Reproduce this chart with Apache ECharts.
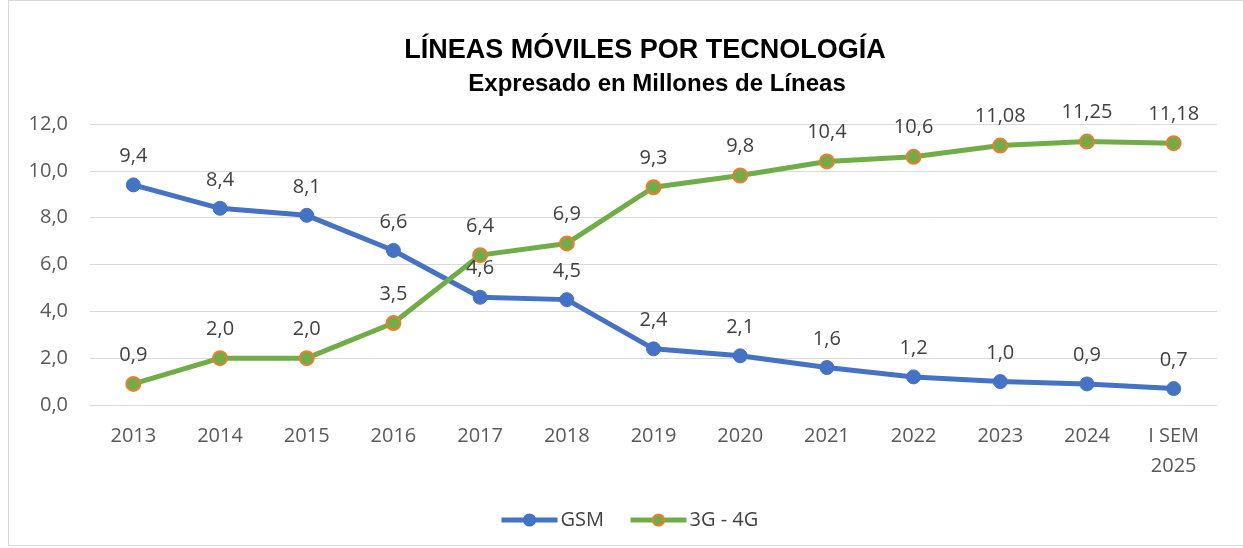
<!DOCTYPE html>
<html>
<head>
<meta charset="utf-8">
<script src="https://cdn.jsdelivr.net/npm/echarts@6/dist/echarts.min.js"></script>
<style>
  html, body { margin: 0; padding: 0; background: #fff; }
  #frame { position: absolute; left: 8px; top: 0; width: 1240px; height: 546px; border: 1px solid #d9d9d9; box-sizing: border-box; }
  #chart { position: absolute; left: 0; top: 0; width: 1243px; height: 548px; }
</style>
</head>
<body>
<div id="frame"></div>
<div id="chart"></div>
<script>
const categories = ['2013', '2014', '2015', '2016', '2017', '2018', '2019', '2020', '2021', '2022', '2023', '2024', 'I SEM\n2025']
const gsm = [9.4, 8.4, 8.1, 6.6, 4.6, 4.5, 2.4, 2.1, 1.6, 1.2, 1.0, 0.9, 0.7]
const g34 = [0.9, 2.0, 2.0, 3.5, 6.4, 6.9, 9.3, 9.8, 10.4, 10.6, 11.08, 11.25, 11.18]
const yTicks = [0, 2, 4, 6, 8, 10, 12]

const fmt = v => {
  const s = Math.round(v * 100) % 10 !== 0 ? v.toFixed(2) : v.toFixed(1)
  return s.replace('.', ',')
}

const chart = echarts.init(document.getElementById('chart'))
const labelFont = { fontFamily: 'Open Sans', fontSize: 20, color: '#404040' }

chart.setOption({
  animation: false,
  title: [
    { text: 'LÍNEAS MÓVILES POR TECNOLOGÍA', left: 640, top: 32, textAlign: 'center',
      textStyle: { fontFamily: 'Liberation Sans', fontWeight: 'bold', fontSize: 27, color: '#000' } },
    { text: 'Expresado en Millones de Líneas', left: 652, top: 67, textAlign: 'center',
      textStyle: { fontFamily: 'Liberation Sans', fontWeight: 'bold', fontSize: 24, color: '#000' } }
  ],
  legend: {
    bottom: 13, left: 494, itemWidth: 56, itemHeight: 14, itemGap: 24,
    lineStyle: { width: 5 },
    textStyle: { fontFamily: 'Open Sans', fontSize: 20, color: '#404040', padding: [0, 0, 0, -2] },
    data: ['GSM', '3G - 4G']
  },
  grid: { left: 90, right: 26, top: 124, bottom: 143 },
  xAxis: {
    type: 'category', data: categories, boundaryGap: true,
    axisLine: { lineStyle: { color: '#d9d9d9', width: 1 } },
    axisTick: { show: false },
    axisLabel: { fontFamily: 'Open Sans', fontSize: 20, color: '#595959', margin: 16, lineHeight: 30 }
  },
  yAxis: {
    type: 'value', min: yTicks[0], max: yTicks[yTicks.length - 1], interval: 2,
    axisLine: { show: false }, axisTick: { show: false },
    splitLine: { lineStyle: { color: '#d9d9d9', width: 1 } },
    axisLabel: { fontFamily: 'Open Sans', fontSize: 20, color: '#595959', margin: 22,
      formatter: v => v.toFixed(1).replace('.', ',') }
  },
  series: [
    {
      name: 'GSM', type: 'line', data: gsm,
      symbol: 'circle', symbolSize: 14,
      lineStyle: { color: '#4472C4', width: 5 },
      itemStyle: { color: '#4472C4', borderColor: '#4472C4', borderWidth: 1 },
      label: { show: true, position: 'top', distance: 11, formatter: p => fmt(p.value), ...labelFont }
    },
    {
      name: '3G - 4G', type: 'line', data: g34,
      symbol: 'circle', symbolSize: 14,
      lineStyle: { color: '#70AD47', width: 5 },
      itemStyle: { color: '#70AD47', borderColor: '#ED7D31', borderWidth: 2 },
      label: { show: true, position: 'top', distance: 11, formatter: p => fmt(p.value), ...labelFont }
    }
  ]
})
</script>
</body>
</html>
